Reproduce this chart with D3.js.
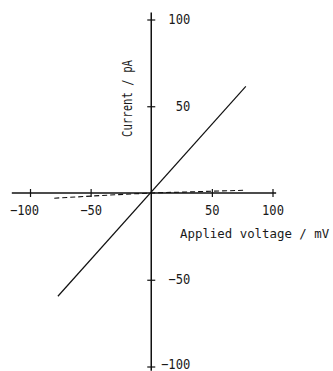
<!DOCTYPE html>
<html>
<head>
<meta charset="utf-8">
<script src="https://cdn.jsdelivr.net/npm/d3@7/dist/d3.min.js"></script>
<style>
  html, body { margin: 0; padding: 0; background: #fff; }
  svg { display: block; }
  text { font-family: "DejaVu Sans Mono", "Liberation Mono", monospace; fill: #1a1a1a; }
</style>
</head>
<body>
<svg id="chart" width="333" height="371"></svg>
<script>
// Ohmic I–V response (solid) and background leak (dashed)
const voltage = [-77, 78];
const current = [-59.5, 61.5];
const leakVoltage = [-80, -30, 0, 78];
const leakCurrent = [-3.0, -1.0, 0, 1.6];

const xTicks = [-100, -50, 50, 100];
const yTicks = [-100, -50, 50, 100];

const svg = d3.select("#chart");
const x = d3.scaleLinear().domain([-100, 100]).range([30, 272.5]);
const y = d3.scaleLinear().domain([-100, 100]).range([366.5, 19.5]);

const fontSize = 13.5;

// axis lines through the origin
svg.append("line")
  .attr("x1", x(-115)).attr("x2", x(103))
  .attr("y1", y(0)).attr("y2", y(0))
  .attr("stroke", "#111").attr("stroke-width", 1.5);
svg.append("line")
  .attr("x1", x(0)).attr("x2", x(0))
  .attr("y1", y(104)).attr("y2", y(-102.5))
  .attr("stroke", "#111").attr("stroke-width", 1.5);

// x axis: cross ticks with labels below
const gx = svg.append("g")
  .attr("transform", `translate(0,${y(0)})`)
  .call(d3.axisBottom(x).tickValues(xTicks).tickSize(4).tickFormat(d3.format("d")));
gx.select(".domain").remove();
gx.selectAll(".tick line").attr("y1", -4).attr("y2", 4).attr("stroke", "#111").attr("stroke-width", 1.2);
gx.selectAll(".tick text")
  .attr("y", 22).attr("dy", null)
  .attr("dx", d => d === -100 ? -6 : 0)
  .attr("font-size", fontSize)
  .attr("font-family", null)
  .attr("fill", null)
  .attr("textLength", d => String(d).length * 7.3)
  .attr("lengthAdjust", "spacingAndGlyphs");

// y axis: cross ticks with labels to the right
const gy = svg.append("g")
  .attr("transform", `translate(${x(0)},0)`)
  .call(d3.axisRight(y).tickValues(yTicks).tickSize(4).tickFormat(d3.format("d")));
gy.select(".domain").remove();
gy.selectAll(".tick line").attr("x1", -4).attr("x2", 4).attr("stroke", "#111").attr("stroke-width", 1.2);
gy.selectAll(".tick text")
  .attr("x", 39).attr("dy", d => d === -100 ? "0.15em" : "0.3em")
  .attr("text-anchor", "end")
  .attr("font-size", fontSize)
  .attr("font-family", null)
  .attr("fill", null)
  .attr("textLength", d => String(d).length * 7.3)
  .attr("lengthAdjust", "spacingAndGlyphs");

// axis titles
svg.append("text")
  .attr("x", 180).attr("y", 238)
  .attr("font-size", 12.4)
  .text("Applied voltage / mV");
svg.append("text")
  .attr("transform", `translate(132,98.5) rotate(-90)`)
  .attr("text-anchor", "middle")
  .attr("font-size", fontSize)
  .attr("textLength", 77)
  .attr("lengthAdjust", "spacingAndGlyphs")
  .text("Current / pA");

const line = d3.line().x(d => x(d[0])).y(d => y(d[1]));

svg.append("path")
  .datum(voltage.map((v, i) => [v, current[i]]))
  .attr("d", line)
  .attr("fill", "none").attr("stroke", "#111").attr("stroke-width", 1.2);

svg.append("path")
  .datum(leakVoltage.map((v, i) => [v, leakCurrent[i]]))
  .attr("d", line)
  .attr("fill", "none").attr("stroke", "#111").attr("stroke-width", 1.1)
  .attr("stroke-dasharray", "5,3");
</script>
</body>
</html>
